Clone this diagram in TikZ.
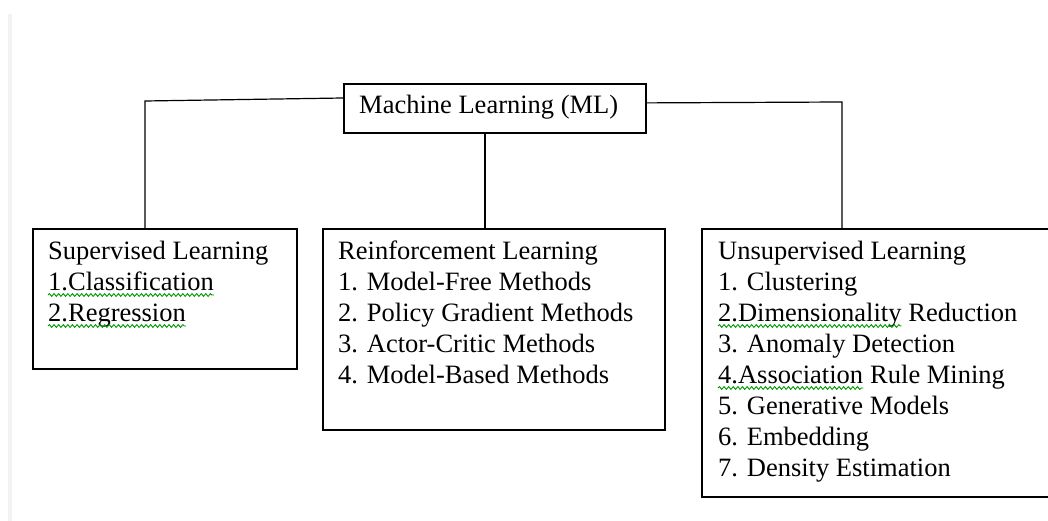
\documentclass[tikz,border=0pt]{standalone}
\usepackage{fontspec}
\setmainfont{Liberation Serif}
\usetikzlibrary{decorations.pathmorphing,calc}
\begin{document}
\begin{tikzpicture}[x=1pt,y=-1pt,
  box/.style={draw=black, line width=1.8pt, rectangle, inner sep=0, anchor=north west},
  conn/.style={draw=black, line width=1.2pt},
  txt/.style={font=\fontsize{26.5}{31}\selectfont, inner sep=0, anchor=base west},
  wavy/.style={draw=green!60!black, line width=0.9pt, decorate,
    decoration={snake, amplitude=1.4pt, segment length=4.6pt}}
]
\useasboundingbox (0,0) rectangle (1048,521);
\fill[white] (0,0) rectangle (1048,521);
% faint page edge on the left
\fill[black!5] (8,14) rectangle (12,521);

% root box and its title
\node[box, minimum width=302pt, minimum height=49pt] (ml) at (343,83) {};
\node[txt] (mlT) at (359,114) {Machine Learning (ML)};

% three branches
\node[box, minimum width=264pt, minimum height=140pt] (sup) at (32,228) {};
\node[box, minimum width=342pt, minimum height=201pt] (rl) at (322,228) {};
\node[box, minimum width=370pt, minimum height=268pt] (ul) at (701,228) {};

% connectors
\coordinate (lk) at (145,101);
\coordinate (rk) at (842,102);
\draw[conn] ([yshift=-15pt]ml.north west) -- (lk) -- (lk |- sup.north);
\draw[conn] ([xshift=-10pt]ml.south) -- ([xshift=-10pt]ml.south |- rl.north);
\draw[conn] ([yshift=5.5pt]ml.east) -- (rk) -- (rk |- ul.north);

% supervised learning
\node[txt] (supT) at (48,259) {Supervised Learning};
\node[txt] (sup1) at ($(supT.base west)+(0,31)$) {1.Classification};
\node[txt] (sup2) at ($(sup1.base west)+(0,31)$) {2.Regression};

% reinforcement learning
\node[txt] (rlT) at (338,259) {Reinforcement Learning};
\node[txt] (rl1) at ($(rlT.base west)+(0,31)$) {1. Model-Free Methods};
\node[txt] (rl2) at ($(rl1.base west)+(0,31)$) {2. Policy Gradient Methods};
\node[txt] (rl3) at ($(rl2.base west)+(0,31)$) {3. Actor-Critic Methods};
\node[txt] (rl4) at ($(rl3.base west)+(0,31)$) {4. Model-Based Methods};

% unsupervised learning
\node[txt] (ulT) at (718,259) {Unsupervised Learning};
\node[txt] (ul1) at ($(ulT.base west)+(0,31)$) {1. Clustering};
\node[txt] (ul2) at ($(ul1.base west)+(0,31)$) {2.Dimensionality};
\node[txt] (ul2b) at ($(ul2.base east)+(6.6,0)$) {Reduction};
\node[txt] (ul3) at ($(ul2.base west)+(0,31)$) {3. Anomaly Detection};
\node[txt] (ul4) at ($(ul3.base west)+(0,31)$) {4.Association};
\node[txt] (ul4b) at ($(ul4.base east)+(6.6,0)$) {Rule Mining};
\node[txt] (ul5) at ($(ul4.base west)+(0,31)$) {5. Generative Models};
\node[txt] (ul6) at ($(ul5.base west)+(0,31)$) {6. Embedding};
\node[txt] (ul7) at ($(ul6.base west)+(0,31)$) {7. Density Estimation};

% spell-check underlines
\foreach \w in {sup1, sup2, ul2, ul4}
  \draw[wavy] ([yshift=-5pt]\w.base west) -- ([yshift=-5pt]\w.base east);
\end{tikzpicture}
\end{document}
